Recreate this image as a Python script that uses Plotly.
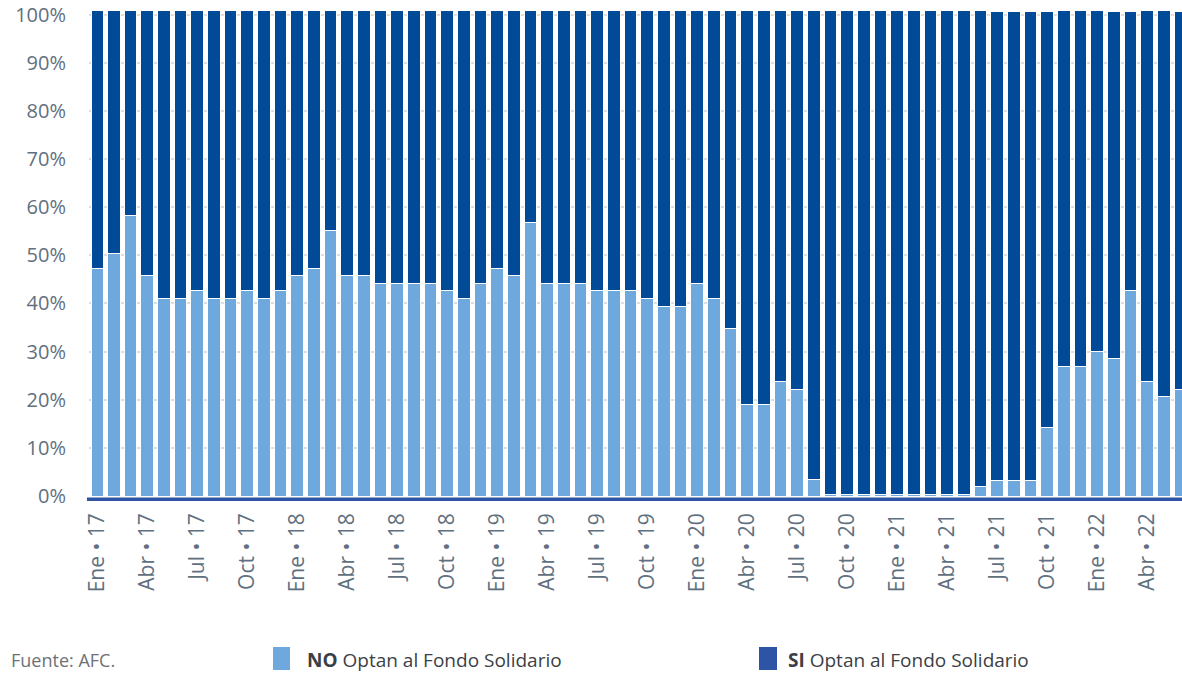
import plotly.graph_objects as go

# ---------------- data ----------------
month_names = ["Ene", "Feb", "Mar", "Abr", "May", "Jun", "Jul", "Ago", "Sep", "Oct", "Nov", "Dic"]
years = ["17", "18", "19", "20", "21", "22"]
months = [f"{m} • {y}" for y in years for m in month_names][:66]  # Ene 17 .. Jun 22

no_optan = [47.2, 50.3, 58.2, 45.8, 41.0, 41.0, 42.6, 41.0, 41.0, 42.6, 41.0, 42.6,
            45.8, 47.2, 55.2, 45.8, 45.8, 44.1, 44.1, 44.1, 44.1, 42.6, 41.0, 44.1,
            47.2, 45.8, 56.8, 44.1, 44.1, 44.1, 42.6, 42.6, 42.6, 41.0, 39.3, 39.3,
            44.1, 41.0, 34.7, 19.0, 19.0, 23.7, 22.1, 3.5, 0.3, 0.3, 0.3, 0.3,
            0.3, 0.3, 0.3, 0.3, 0.3, 1.9, 3.3, 3.3, 3.3, 14.3, 26.9, 26.9,
            30.0, 28.5, 42.6, 23.7, 20.6, 22.2]

si_optan = [53.7, 50.6, 42.7, 55.1, 59.9, 59.9, 58.3, 59.9, 59.9, 58.3, 59.9, 58.3,
            55.1, 53.7, 45.7, 55.1, 55.1, 56.8, 56.8, 56.8, 56.8, 58.3, 59.9, 56.8,
            53.7, 55.1, 44.1, 56.8, 56.8, 56.8, 58.3, 58.3, 58.3, 59.9, 61.6, 61.6,
            56.8, 59.9, 66.2, 81.9, 81.9, 77.2, 78.8, 97.4, 100.6, 100.6, 100.6, 100.6,
            100.6, 100.6, 100.6, 100.6, 100.6, 99.0, 97.4, 97.4, 97.4, 86.4, 74.0, 74.0,
            70.9, 72.2, 58.1, 77.2, 80.3, 78.5]

tick_months = months[::3]
y_ticks = [0, 10, 20, 30, 40, 50, 60, 70, 80, 90, 100]
y_ticktext = [f"{v}%" for v in y_ticks]

# ---------------- styles ----------------
LIGHT = "#6FA8DC"
DARK = "#004A98"
LEG_DARK = "#2E55A5"
TICK_COLOR = "#5F7080"
FONT = "Open Sans"

W, H = 1182, 675
ML, MR, MT, MB = 89, 0, 5, 179
PW = W - ML - MR
PH = H - MT - MB


def px_x(px):
    return (px - ML) / PW


def px_y(py):
    return (H - MB - py) / PH


fig = go.Figure()
fig.add_trace(go.Bar(x=months, y=no_optan, name="NO Optan al Fondo Solidario",
                     marker=dict(color=LIGHT, line=dict(color="white", width=1))))
fig.add_trace(go.Bar(x=months, y=si_optan, name="SI Optan al Fondo Solidario",
                     marker=dict(color=DARK, line=dict(color="white", width=1))))

fig.update_layout(
    width=W, height=H,
    margin=dict(l=ML, r=MR, t=MT, b=MB, pad=0),
    barmode="stack", bargap=0.24,
    plot_bgcolor="white", paper_bgcolor="white",
    showlegend=False,
    font=dict(family=FONT),
)

fig.update_xaxes(
    type="category", range=[-0.5, 65.1],
    tickmode="array", tickvals=tick_months, ticktext=tick_months,
    tickangle=-90, tickfont=dict(size=21, color=TICK_COLOR, family=FONT),
    showgrid=False, showline=False, zeroline=False, ticks="",
    ticklabelstandoff=12,
)
fig.update_yaxes(
    range=[0, 102],
    tickmode="array", tickvals=y_ticks, ticktext=y_ticktext,
    tickfont=dict(size=20, color=TICK_COLOR, family=FONT),
    showgrid=True, gridcolor="#DEDEE2", gridwidth=2,
    zeroline=False, showline=False, ticks="",
    ticklabelstandoff=22,
)

# axis baseline
fig.add_shape(type="line", xref="paper", yref="paper",
              x0=px_x(87), x1=px_x(1182), y0=px_y(499.3), y1=px_y(499.3),
              line=dict(color=LEG_DARK, width=3.5))

# custom legend
fig.add_shape(type="rect", xref="paper", yref="paper",
              x0=px_x(273), x1=px_x(290), y0=px_y(647), y1=px_y(670),
              fillcolor=LIGHT, line=dict(width=0))
fig.add_shape(type="rect", xref="paper", yref="paper",
              x0=px_x(759), x1=px_x(777), y0=px_y(647), y1=px_y(670),
              fillcolor=LEG_DARK, line=dict(width=0))

fig.add_annotation(xref="paper", yref="paper", x=px_x(305), y=px_y(660),
                   xanchor="left", yanchor="middle", showarrow=False,
                   text="<b>NO</b> Optan al Fondo Solidario",
                   font=dict(size=19, color="#3C3F45", family=FONT))
fig.add_annotation(xref="paper", yref="paper", x=px_x(786), y=px_y(660),
                   xanchor="left", yanchor="middle", showarrow=False,
                   text="<b>SI</b> Optan al Fondo Solidario",
                   font=dict(size=19, color="#3C3F45", family=FONT))
fig.add_annotation(xref="paper", yref="paper", x=px_x(9), y=px_y(660),
                   xanchor="left", yanchor="middle", showarrow=False,
                   text="Fuente: AFC.",
                   font=dict(size=18, color="#6E7176", family=FONT))

fig.write_html("out.html")
